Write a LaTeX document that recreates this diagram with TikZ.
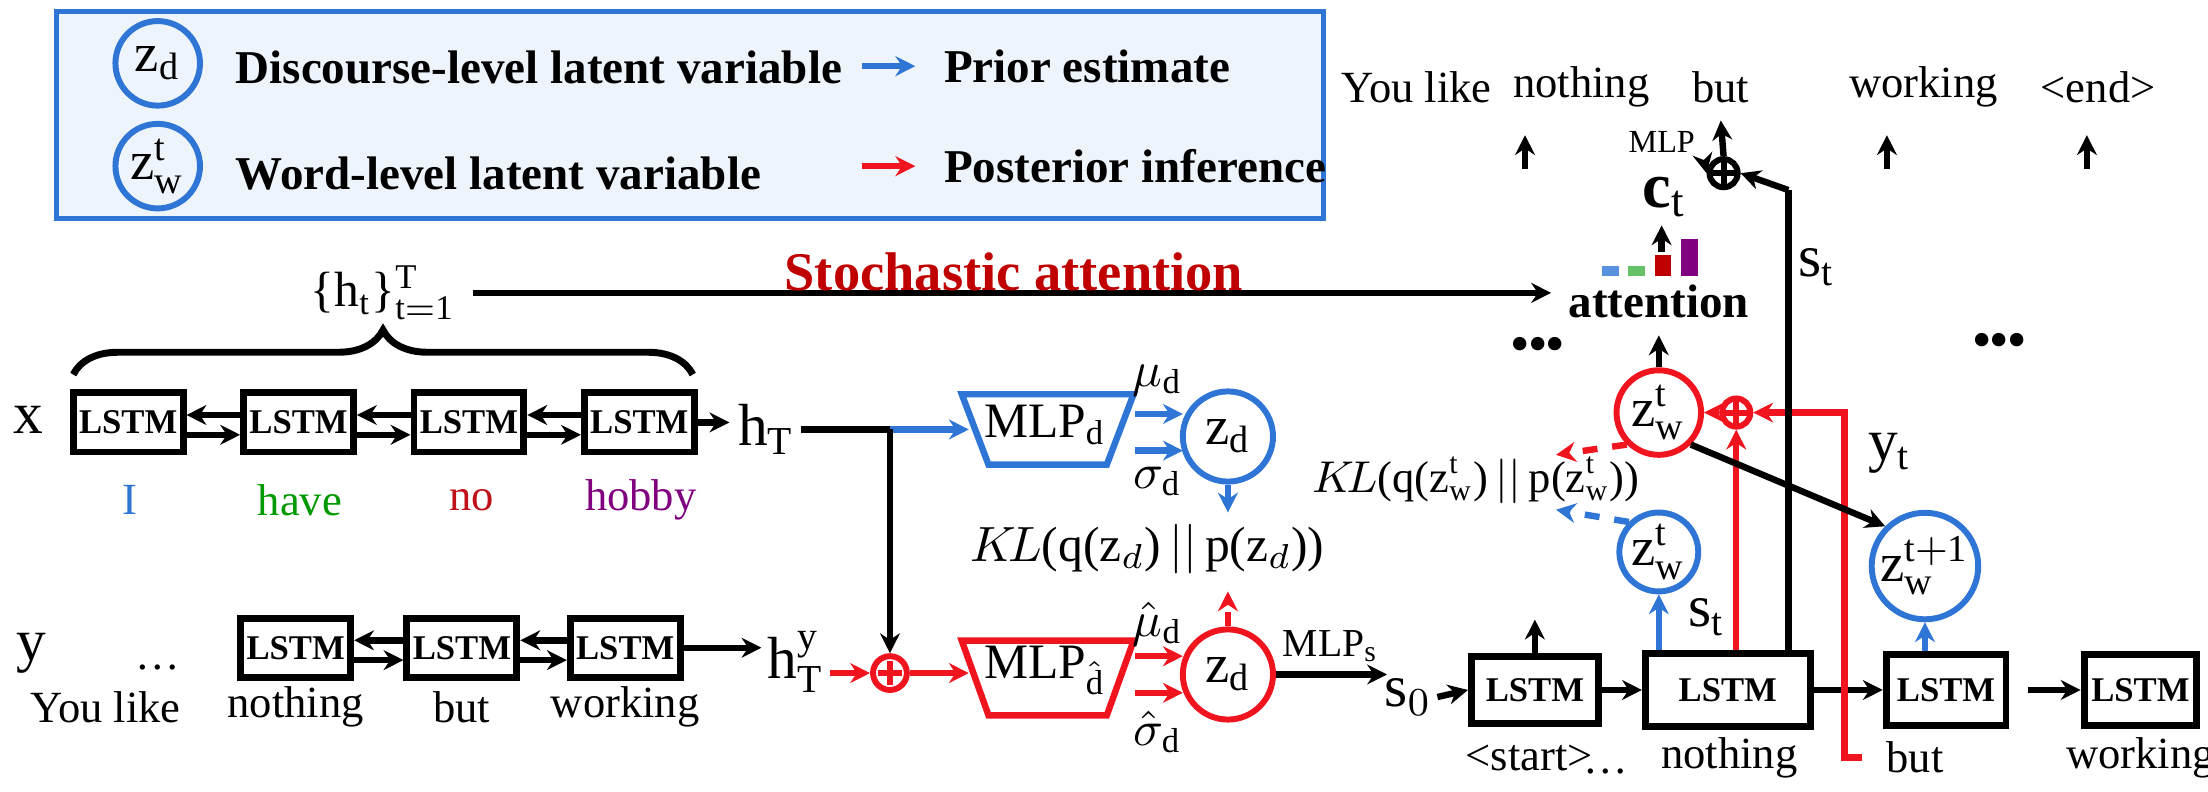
\documentclass[tikz,border=0pt]{standalone}
\usepackage{fontspec}
\setmainfont{Liberation Serif}
\usetikzlibrary{arrows.meta,decorations.pathreplacing}
\definecolor{bl}{HTML}{2E75D6}
\definecolor{rd}{HTML}{F0141E}
\definecolor{dr}{HTML}{C00000}
\definecolor{lbg}{HTML}{EEF4FC}
\begin{document}
\begin{tikzpicture}[x=0.01cm,y=-0.01cm,
 >={Stealth[length=4pt,width=4pt]},
 lstm/.style={draw,line width=1.4pt,minimum width=0.78cm,minimum height=0.42cm,inner sep=0,font=\bfseries\fontsize{7}{8}\selectfont},
 word/.style={font=\fontsize{9}{10}\selectfont},
 lat/.style={circle,draw,line width=1.2pt,inner sep=0,minimum size=0.6cm,font=\fontsize{11}{12}\selectfont},
 op/.style={circle,draw,line width=1.2pt,minimum size=0.2cm,inner sep=0,path picture={\draw[line width=1.2pt] ([xshift=-2.5pt]path picture bounding box.center)--([xshift=2.5pt]path picture bounding box.center) ([yshift=-2.5pt]path picture bounding box.center)--([yshift=2.5pt]path picture bounding box.center);}},
 ar/.style={->,line width=1.3pt},
 big/.style={font=\fontsize{12}{13}\selectfont,inner sep=1pt}]
\useasboundingbox (0,0) rectangle (1568,562);
% legend
\draw[bl,line width=1pt,fill=lbg] (40,8) rectangle (940,155);
\node[lat,bl,text=black] (lz) at (112,45) {z$_\mathrm{d}$};
\node[lat,bl,text=black] (lw) at (112,118) {z$^\mathrm{t}_\mathrm{w}$};
\node[anchor=west,font=\bfseries\fontsize{9.5}{10}\selectfont] (l1) at (155,48) {Discourse-level latent variable};
\node[anchor=west,font=\bfseries\fontsize{9.5}{10}\selectfont] (l2) at (155,123) {Word-level latent variable};
\coordinate (pa) at (612,47); \coordinate (pb) at (650,47);
\coordinate (qa) at (612,118); \coordinate (qb) at (650,118);
\draw[ar,bl] (pa)--(pb); \draw[ar,rd] (qa)--(qb);
\node[anchor=west,font=\bfseries\fontsize{9.5}{10}\selectfont] (l3) at (658,47) {Prior estimate};
\node[anchor=west,font=\bfseries\fontsize{9.5}{10}\selectfont] (l4) at (658,118) {Posterior inference};
% top words
\node[word] (w1) at (1006,62) {You like};
\node[word] (w2) at (1123,62) {nothing};
\node[word] (w3) at (1222,62) {but};
\node[word] (w4) at (1366,62) {working};
\node[word] (w5) at (1490,62) {<end>};
\coordinate (u1) at (1083,120); \coordinate (u1t) at (1083,96);
\coordinate (u2) at (1340,120); \coordinate (u2t) at (1340,96);
\coordinate (u3) at (1482,120); \coordinate (u3t) at (1482,96);
\draw[ar] (u1)--(u1t); \draw[ar] (u2)--(u2t); \draw[ar] (u3)--(u3t);
\node[op] (opt) at (1224,123) {};
\draw[ar] (opt.north)--(w3.south);
\node[anchor=east,font=\fontsize{6.5}{7}\selectfont] (mlp) at (1216,101) {MLP};
\node[font=\bfseries\fontsize{13}{14}\selectfont] (ct) at (1182,140) {c$_\mathrm{t}$};
\draw[ar] (ct.north east)--(opt.west);
% bars
\fill[bl!80] (1138,189) rectangle (1150,196);
\fill[green!60!black!60] (1156,189) rectangle (1168,196);
\fill[dr] (1175,181) rectangle (1187,196);
\fill[violet] (1194,170) rectangle (1206,196);
\coordinate (bt) at (1180,179); \coordinate (bb) at (1180,160);
\draw[ar] (bt)--(bb);
\node[font=\bfseries\fontsize{9.5}{10}\selectfont] (att) at (1178,214) {attention};
% encoder
\node[big] (x) at (20,298) {x};
\foreach \i/\xx in {1/91,2/212,3/333,4/454}{\node[lstm] (e\i) at (\xx,300) {LSTM};}
\foreach \a/\b in {1/2,2/3,3/4}{
 \draw[ar] ([yshift=1.5pt]e\b.west)--([yshift=1.5pt]e\a.east);
 \draw[ar] ([yshift=-2.5pt]e\a.east)--([yshift=-2.5pt]e\b.west);}
\node[font=\fontsize{9}{10}\selectfont,text=bl] at (92,355) {I};
\node[font=\fontsize{9}{10}\selectfont,text=green!60!black] at (213,355) {have};
\node[font=\fontsize{9}{10}\selectfont,text=rd!80!black] at (335,355) {no};
\node[font=\fontsize{9}{10}\selectfont,text=violet] at (455,355) {hobby};
\node[big,anchor=west] (hT) at (520,305) {h$_\mathrm{T}$};
\coordinate (hTin) at (518,300);
\draw[ar] (e4.east)--(hTin);
\draw[decorate,decoration={brace,amplitude=9pt},line width=1.4pt] (52,266)--(492,266);
\node[font=\fontsize{10}{11}\selectfont] (hset) at (272,208) {\{h$_\mathrm{t}$\}$^\mathrm{T}_\mathrm{t=1}$};
\draw[ar] (hset.east)--(hset.east -| att.west);
\node[font=\bfseries\fontsize{11}{12}\selectfont,text=dr] at (720,193) {Stochastic attention};
% prior
\node[font=\fontsize{10}{11}\selectfont] (md) at (742,302) {MLP$_\mathrm{d}$};
\draw[bl,line width=1.3pt] (683,280)--(805,280)--(786,330)--(702,330)--cycle;
\coordinate (j) at (632,305);
\draw[line width=1.3pt] (hT.east)--(j);
\draw[ar,bl] (j)--(688,305);
\node[lat,bl,text=black,minimum size=0.64cm] (zd) at (872,310) {z$_\mathrm{d}$};
\draw[ar,bl] (806,294)--(840,294);
\draw[ar,bl] (806,320)--(840,320);
\node at (822,270) {$\mu_\mathrm{d}$};
\node at (822,342) {$\sigma_\mathrm{d}$};
\node[font=\fontsize{10}{11}\selectfont] (kl) at (815,390) {$K\!L$(q(z$_{d}$)$\,||\,$p(z$_{d}$))};
\draw[ar,bl] (zd.south)--(872,364);
% decoder-input row
\node[big] (y) at (22,464) {y};
\node[word] at (112,474) {\dots};
\node[word] at (75,502) {You like};
\foreach \i/\xx/\w in {1/210/nothing,2/328/but,3/444/working}{\node[lstm] (d\i) at (\xx,460) {LSTM}; \node[word] at (\xx,502) {\w};}
\foreach \a/\b in {1/2,2/3}{
 \draw[ar] ([yshift=1.5pt]d\b.west)--([yshift=1.5pt]d\a.east);
 \draw[ar] ([yshift=-2.5pt]d\a.east)--([yshift=-2.5pt]d\b.west);}
\node[big] (hy) at (565,470) {h$^\mathrm{y}_\mathrm{T}$};
\draw[ar] (d3.east)--(d3.east -| hy.west);
\node[op,rd,minimum size=0.24cm] (op1) at (632,478) {};
\draw[ar] (j)--(op1.north);
\draw[ar,rd] (hy.east |- op1)--(op1.west);
\node[font=\fontsize{10}{11}\selectfont] (mq) at (742,476) {MLP$_{\hat{\mathrm{d}}}$};
\draw[rd,line width=1.3pt] (683,455)--(805,455)--(786,508)--(702,508)--cycle;
\draw[ar,rd] (op1.east)--(688,478);
\node[lat,rd,text=black,minimum size=0.64cm] (zq) at (872,479) {z$_\mathrm{d}$};
\draw[ar,rd] (806,466)--(840,466);
\draw[ar,rd] (806,492)--(840,492);
\node at (822,443) {$\hat\mu_\mathrm{d}$};
\node at (822,520) {$\hat\sigma_\mathrm{d}$};
\draw[ar,rd,dashed] (zq.north)--(872,420);
\node[big] (s0) at (1000,495) {s$_0$};
\draw[ar] (zq.east)--(985,479);
\node[font=\fontsize{8}{9}\selectfont] at (945,459) {MLP$_\mathrm{s}$};
% decoder
\node[lstm,minimum width=0.9cm,minimum height=0.48cm] (c1) at (1090,490) {LSTM};
\node[lstm,minimum width=1.17cm,minimum height=0.52cm] (c2) at (1227,490) {LSTM};
\node[lstm,minimum width=0.85cm,minimum height=0.5cm] (c3) at (1382,490) {LSTM};
\node[lstm,minimum width=0.8cm,minimum height=0.5cm] (c4) at (1520,490) {LSTM};
\draw[ar] (s0.east)--(c1.west);
\draw[ar] (c1.east)--(c2.west);
\draw[ar] (c2.east)--(c3.west);
\draw[ar] (1440,490)--(c4.west);
\node[word] at (1086,538) {<start>};
\node[word] at (1140,548) {\dots};
\node[word] at (1228,538) {nothing};
\node[word] (butw) at (1360,538) {but};
\node[word] at (1520,538) {working};
\draw[ar] (c1.north)--(1090,440);
\node[lat,bl,text=black,minimum size=0.56cm] (zp) at (1178,392) {z$^\mathrm{t}_\mathrm{w}$};
\draw[ar,bl] (c2.north west -| zp)--(zp.south);
\node[big] at (1212,438) {s$_\mathrm{t}$};
\node[lat,rd,text=black] (zw) at (1178,293) {z$^\mathrm{t}_\mathrm{w}$};
\node[op,rd] (op2) at (1233,293) {};
\draw[ar,rd] (c2.north -| op2)--(op2.south);
\draw[ar,rd] (op2.west)--(zw.east);
\draw[ar,rd] (butw.west)++(-5,0) -- (1310,538)--(1310,293)--(op2.east);
\draw[ar] (zw.north)--(att.south);
\draw[line width=1.3pt] (1270,465)--(1270,135);
\draw[ar] (1270,135)--(opt.east);
\node[big] at (1290,190) {s$_\mathrm{t}$};
\node[font=\fontsize{9}{10}\selectfont] (klw) at (1048,341) {$K\!L$(q(z$^\mathrm{t}_\mathrm{w}$)$\,||\,$p(z$^\mathrm{t}_\mathrm{w}$))};
\draw[ar,rd,dashed] (zw.south west)--(1105,323);
\draw[ar,bl,dashed] (zp.north west)--(1105,362);
\node[lat,bl,text=black,minimum size=0.56cm] (zn) at (1367,402) {z$^\mathrm{t+1}_\mathrm{w}$};
\draw[ar] (zw.south east)--(zn.north west);
\draw[ar,bl] (c3.north -| zn)--(zn.south);
\node[big] at (1342,322) {y$_\mathrm{t}$};
\node[font=\bfseries\fontsize{10}{11}\selectfont] at (1092,248) {\textbullet\textbullet\textbullet};
\node[font=\bfseries\fontsize{10}{11}\selectfont] at (1420,245) {\textbullet\textbullet\textbullet};
\end{tikzpicture}
\end{document}
